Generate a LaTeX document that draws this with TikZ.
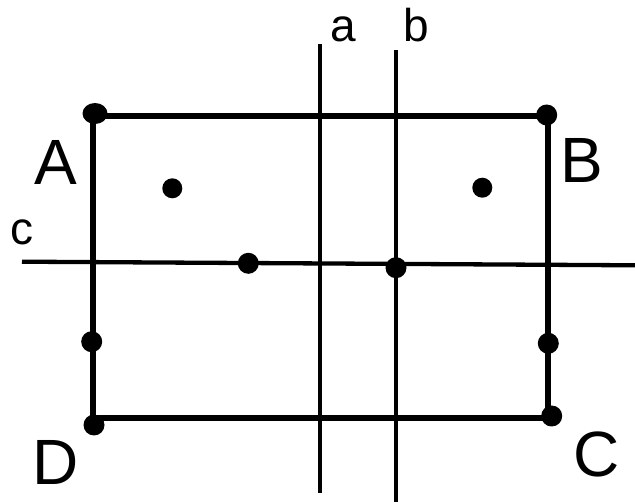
\documentclass[tikz,border=0pt]{standalone}
\usepackage{fontspec}
\usetikzlibrary{shapes.geometric}
\setmainfont{Liberation Sans}
\begin{document}
\begin{tikzpicture}[x=1pt,y=-1pt,
  thick edge/.style={line width=6pt,line cap=rect},
  thin line/.style={line width=4.3pt},
  dot/.style={circle,fill=black,inner sep=0pt,minimum size=21pt},
  big label/.style={font=\fontsize{64}{64}\selectfont,inner sep=0pt,anchor=base},
  small label/.style={font=\fontsize{46}{46}\selectfont,inner sep=0pt,anchor=base}]
\useasboundingbox (0,0) rectangle (635,502);
% rectangle corners
\coordinate (TL) at (93,116);
\coordinate (TR) at (548,116);
\coordinate (BR) at (548,418);
\coordinate (BL) at (93,418);
\draw[thick edge] (TL) -- (TR) -- (BR) -- (BL) -- cycle;
% lines a, b, c
\coordinate (aT) at (320,44);
\coordinate (aB) at (320,493);
\coordinate (bT) at (396,50);
\coordinate (bB) at (396,502);
\coordinate (cL) at (22,261.7);
\coordinate (cR) at (635,265.3);
\draw[thin line] (aT) -- (aB);
\draw[thin line] (bT) -- (bB);
\draw[thin line] (cL) -- (cR);
% dots
\node[ellipse,fill=black,inner sep=0pt,minimum width=25pt,minimum height=21pt] (dA) at (95,113.5) {};
\node[dot] (dB) at (546.7,115) {};
\node[dot] (dC) at (551.7,416) {};
\node[dot] (dD) at (94,425) {};
\node[dot,minimum size=20pt] (p1) at (172.3,188.3) {};
\node[dot,minimum size=20pt] (p2) at (482.3,187.7) {};
\node[dot] (p3) at (248.3,263.3) {};
\node[dot] (p4) at (396,267.7) {};
\node[dot] (p5) at (91.7,341.7) {};
\node[dot] (p6) at (548.3,343.3) {};
% labels
\node[big label] (lA) at (56,185) {A};
\node[big label] (lB) at (581.5,183) {B};
\node[big label] (lC) at (597,477) {C};
\node[big label] (lD) at (56,485) {D};
\node[small label] (la) at (343.5,42) {a};
\node[small label] (lb) at (416,42) {b};
\node[small label] (lc) at (21.5,245) {c};
\end{tikzpicture}
\end{document}
